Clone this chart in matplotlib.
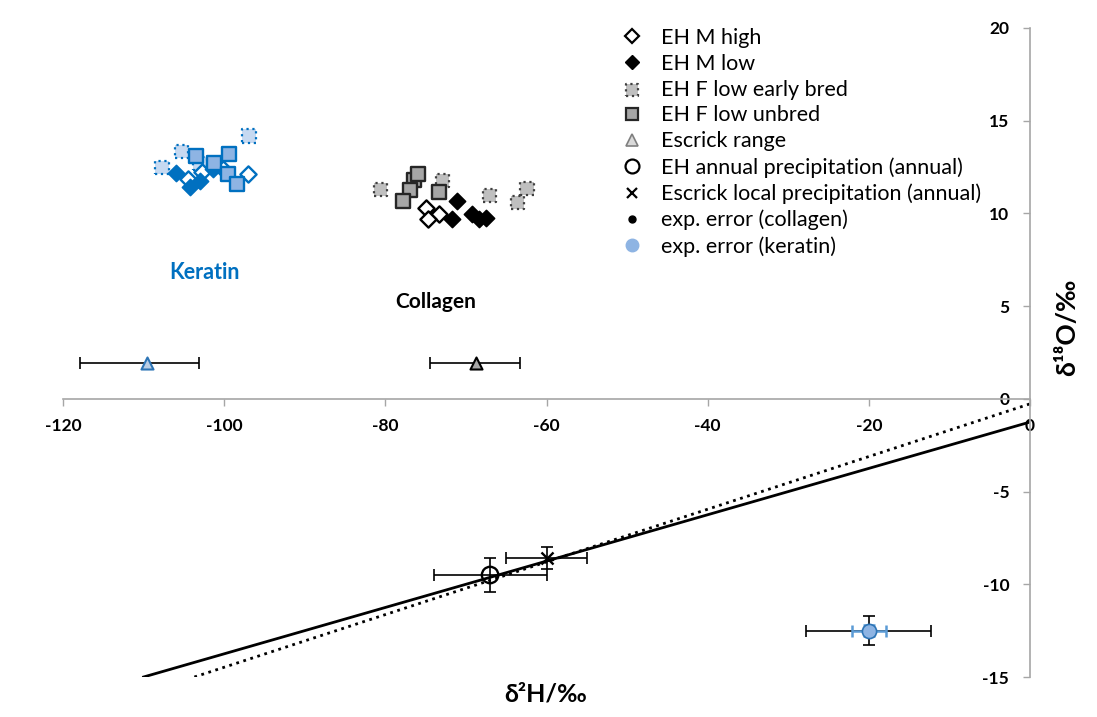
import matplotlib.pyplot as plt
from matplotlib.lines import Line2D

plt.rcParams['font.family'] = ['Lato', 'DejaVu Sans']
plt.rcParams['axes.unicode_minus'] = False

# delta2H (x) and delta18O (y) per group, keratin then collagen
ker_early_h = [-107.7, -105.3, -103.0, -96.9]
ker_early_o = [12.47, 13.33, 12.69, 14.19]
ker_high_h = [-104.5, -102.7, -100.2, -97.1]
ker_high_o = [11.88, 12.26, 12.37, 12.15]
ker_low_h = [-106.0, -104.3, -103.0, -101.4]
ker_low_o = [12.20, 11.40, 11.77, 12.37]
ker_unbred_h = [-103.5, -101.2, -99.4, -99.5, -98.4]
ker_unbred_o = [13.12, 12.74, 13.23, 12.15, 11.61]

col_early_h = [-80.6, -72.9, -67.1, -62.4, -63.6]
col_early_o = [11.29, 11.77, 10.97, 11.34, 10.59]
col_high_h = [-75.0, -73.4, -74.7]
col_high_o = [10.27, 9.95, 9.68]
col_low_h = [-71.1, -71.7, -69.2, -68.4, -67.5]
col_low_o = [10.65, 9.68, 9.95, 9.68, 9.73]
col_unbred_h = [-76.5, -76.0, -77.0, -77.8, -73.4]
col_unbred_o = [11.80, 12.10, 11.29, 10.65, 11.18]

# Escrick range: centre, lower and upper x error
range_h = [-109.6, -68.8]
range_o = [1.95, 1.95]
range_err_lo = [8.3, 5.7]
range_err_hi = [6.5, 5.5]

# precipitation (annual): EH and Escrick local
eh_precip = (-67.0, -9.5)
eh_precip_err = (7.0, 0.9)
esc_precip = (-60.0, -8.6)
esc_precip_err = (5.0, 0.6)

# expected offsets
exp_point = (-20.0, -12.5)
exp_err_collagen = (7.75, 0.8)
exp_err_keratin = (2.1, 0.3)

# meteoric water lines: (d2H, d18O) endpoints
gmwl_h = [-110.0, 0.0]
gmwl_o = [-15.0, -1.25]
lmwl_h = [-103.7, 0.0]
lmwl_o = [-15.0, -0.27]

blue = '#0070C0'

fig = plt.figure(figsize=(10.97, 7.17), dpi=100)
ax = fig.add_axes([63 / 1097, 1 - 677 / 717, (1030 - 63) / 1097, (677 - 28) / 717])
ax.set_xlim(-120, 0)
ax.set_ylim(-15, 20)

ax.plot(gmwl_h, gmwl_o, color='black', lw=2.0, zorder=2)
ax.plot(lmwl_h, lmwl_o, color='black', lw=2.0, ls=':', zorder=2)

# keratin cluster
ax.scatter(ker_early_h, ker_early_o, marker='s', s=95, facecolor='#C6D9F1',
           edgecolor=blue, linestyle=':', linewidth=1.6, zorder=3)
ax.scatter(ker_high_h, ker_high_o, marker='D', s=68, facecolor='white',
           edgecolor=blue, linewidth=1.7, zorder=4)
ax.scatter(ker_low_h, ker_low_o, marker='D', s=68, facecolor=blue,
           edgecolor=blue, linewidth=1.2, zorder=5)
ax.scatter(ker_unbred_h, ker_unbred_o, marker='s', s=95, facecolor='#8EB4E3',
           edgecolor=blue, linewidth=1.7, zorder=6)

# collagen cluster
ax.scatter(col_early_h, col_early_o, marker='s', s=95, facecolor='#BFBFBF',
           edgecolor='#404040', linestyle=':', linewidth=1.6, zorder=3)
ax.scatter(col_high_h, col_high_o, marker='D', s=68, facecolor='white',
           edgecolor='black', linewidth=1.7, zorder=4)
ax.scatter(col_low_h, col_low_o, marker='D', s=68, facecolor='black',
           edgecolor='black', linewidth=1.2, zorder=5)
ax.scatter(col_unbred_h, col_unbred_o, marker='s', s=95, facecolor='#A6A6A6',
           edgecolor='#262626', linewidth=1.7, zorder=6)

# Escrick range with spread
ax.errorbar(range_h, range_o, xerr=[range_err_lo, range_err_hi], fmt='none',
            ecolor='black', elinewidth=1.2, capsize=4, capthick=1.2, zorder=3)
ax.scatter(range_h[:1], range_o[:1], marker='^', s=75, facecolor='#B9CDE5',
           edgecolor='#2E75B6', linewidth=1.5, zorder=4)
ax.scatter(range_h[1:], range_o[1:], marker='^', s=75, facecolor='#A6A6A6',
           edgecolor='black', linewidth=1.5, zorder=4)

# precipitation points
ax.errorbar(*eh_precip, xerr=eh_precip_err[0], yerr=eh_precip_err[1], fmt='none',
            ecolor='black', elinewidth=1.2, capsize=4, capthick=1.2, zorder=3)
ax.scatter(*eh_precip, marker='o', s=140, facecolor='none', edgecolor='black',
           linewidth=1.7, zorder=4)
ax.errorbar(*esc_precip, xerr=esc_precip_err[0], yerr=esc_precip_err[1], fmt='none',
            ecolor='black', elinewidth=1.2, capsize=4, capthick=1.2, zorder=3)
ax.scatter(*esc_precip, marker='x', s=75, color='black', linewidth=1.7, zorder=4)

# expected analytical error
ax.errorbar(*exp_point, xerr=exp_err_collagen[0], yerr=exp_err_collagen[1],
            fmt='none', ecolor='black', elinewidth=1.2, capsize=4, capthick=1.2,
            zorder=3)
ax.errorbar(*exp_point, xerr=exp_err_keratin[0], yerr=exp_err_keratin[1],
            fmt='none', ecolor='#5B9BD5', elinewidth=1.8, capsize=4, capthick=1.8,
            zorder=4)
ax.scatter(*exp_point, marker='o', s=105, facecolor='#8EB4E3', edgecolor='#2E75B6',
           linewidth=1.2, zorder=5)

ax.text(-102.4, 6.8, 'Keratin', color=blue, fontsize=15.5, fontweight='bold',
        ha='center', va='center')
ax.text(-73.8, 5.2, 'Collagen', color='black', fontsize=15, fontweight='bold',
        ha='center', va='center')

# axes cross at the origin
for side in ['top', 'right']:
    ax.spines[side].set_visible(False)
ax.spines['left'].set_position(('data', 0))
ax.spines['bottom'].set_position(('data', 0))
for side in ['left', 'bottom']:
    ax.spines[side].set_color('#A6A6A6')
    ax.spines[side].set_linewidth(1.2)
ax.set_xticks(range(-120, 1, 20))
ax.set_yticks(range(-15, 21, 5))
ax.tick_params(axis='both', direction='out', length=5, width=1, color='#A6A6A6',
               labelsize=12.5)
ax.tick_params(axis='x', pad=9)
ax.tick_params(axis='y', pad=10)
for lab in ax.get_xticklabels() + ax.get_yticklabels():
    lab.set_fontweight('bold')

fig.text(546 / 1097, 1 - 694 / 717, 'δ²H/‰', fontsize=18, fontweight='bold',
         ha='center', va='center')
fig.text(1067 / 1097, 1 - 327 / 717, 'δ¹⁸O/‰', fontsize=19, fontweight='bold',
         ha='center', va='center', rotation=90)

handles = [
    Line2D([], [], ls='none', marker='D', ms=7, mfc='white', mec='black', mew=1.6),
    Line2D([], [], ls='none', marker='D', ms=7, mfc='black', mec='black'),
    ax.scatter([], [], marker='s', s=70, facecolor='#BFBFBF', edgecolor='#404040',
               linestyle=':', linewidth=1.6),
    Line2D([], [], ls='none', marker='s', ms=8, mfc='#A6A6A6', mec='#262626', mew=1.6),
    Line2D([], [], ls='none', marker='^', ms=8, mfc='#D9D9D9', mec='#7F7F7F', mew=1.2),
    Line2D([], [], ls='none', marker='o', ms=10, mfc='none', mec='black', mew=1.6),
    Line2D([], [], ls='none', marker='x', ms=7, color='black', mew=1.6),
    Line2D([], [], ls='none', marker='o', ms=5, color='black'),
    Line2D([], [], ls='none', marker='o', ms=9, mfc='#8EB4E3', mec='#8EB4E3'),
]
labels = ['EH M high', 'EH M low', 'EH F low early bred', 'EH F low unbred',
          'Escrick range', 'EH annual precipitation (annual)',
          'Escrick local precipitation (annual)', 'exp. error (collagen)',
          'exp. error (keratin)']
fig.legend(handles, labels, loc='upper left', bbox_to_anchor=(620 / 1097, 1 - 28 / 717),
           frameon=False, fontsize=15.5, borderpad=0, borderaxespad=0,
           labelspacing=0.27, handletextpad=0.8, handlelength=1.1)

fig.savefig('out.png', dpi=100)
